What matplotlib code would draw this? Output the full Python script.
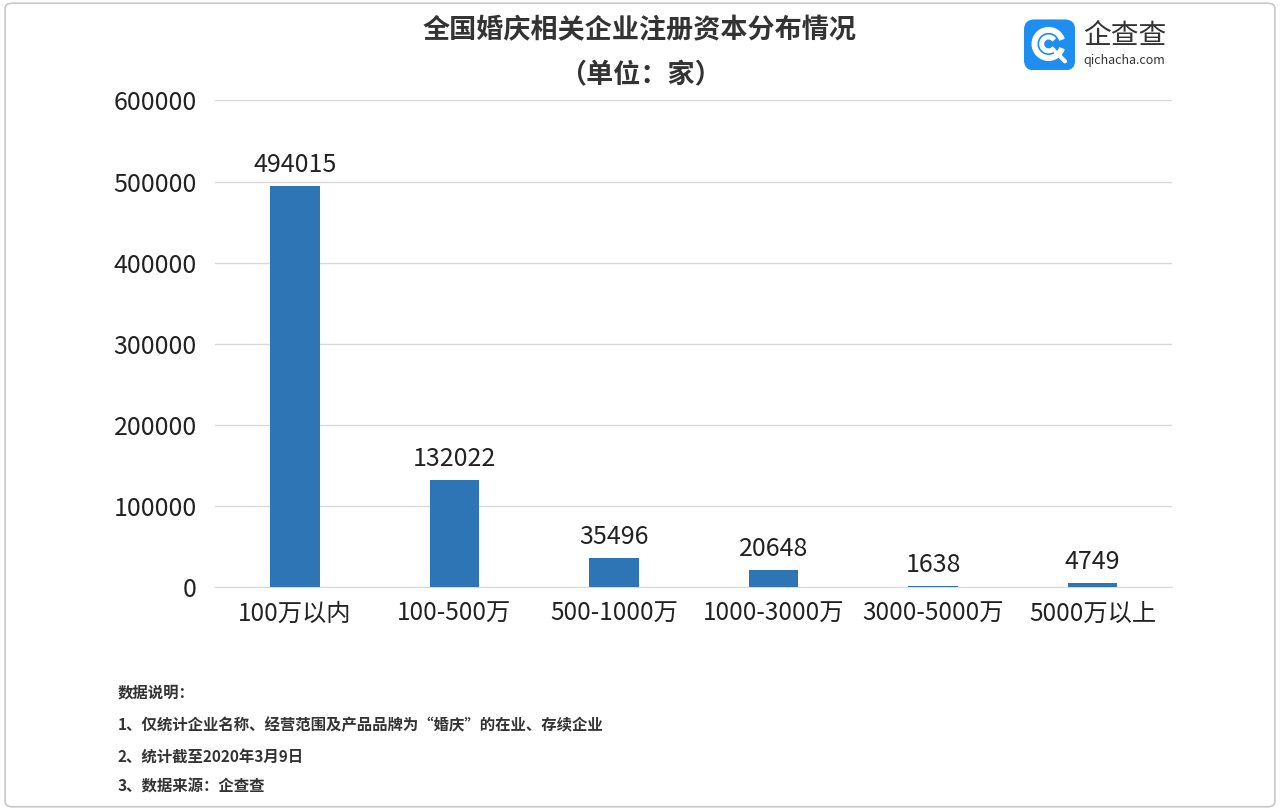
import matplotlib.pyplot as plt
from matplotlib.patches import FancyBboxPatch, Wedge

plt.rcParams['font.family'] = ['Noto Sans CJK SC', 'DejaVu Sans']

categories = ['100万以内', '100-500万', '500-1000万', '1000-3000万', '3000-5000万', '5000万以上']
counts = [494015, 132022, 35496, 20648, 1638, 4749]
yticks = [0, 100000, 200000, 300000, 400000, 500000, 600000]
notes = ['数据说明：',
         '1、仅统计企业名称、经营范围及产品品牌为“婚庆”的在业、存续企业',
         '2、统计截至2020年3月9日',
         '3、数据来源：企查查']

fig = plt.figure(figsize=(12.8, 8.1), dpi=100)
fig.patches.append(FancyBboxPatch((0.004, 0.004), 0.992, 0.992, boxstyle='round,pad=0,rounding_size=0.006',
                                  transform=fig.transFigure, fill=False, edgecolor='#c8c8c8', lw=1.2))

ax = fig.add_axes([0.168, 0.275, 0.748, 0.601])
x = range(len(categories))
ax.bar(x, counts, width=0.31, color='#2e75b6', zorder=3)
for i, v in zip(x, counts):
    ax.text(i, v + 10000, str(v), ha='center', va='bottom', fontsize=18, fontweight='medium', color='#222222')

ax.set_ylim(0, 600000)
ax.set_xlim(-0.5, len(categories) - 0.5)
ax.set_yticks(yticks)
ax.set_yticklabels([str(t) for t in yticks], fontsize=18, fontweight='medium', color='#222222')
ax.set_xticks(list(x))
ax.set_xticklabels(categories, fontsize=17.5, fontweight='medium', color='#222222')
ax.yaxis.grid(True, color='#d9d9d9', lw=1, zorder=0)
ax.tick_params(length=0, pad=10)
ax.tick_params(axis='y', pad=13)
for s in ['top', 'right', 'left']:
    ax.spines[s].set_visible(False)
ax.spines['bottom'].set_color('#d9d9d9')

fig.text(0.5, 0.963, '全国婚庆相关企业注册资本分布情况', ha='center', va='center',
         fontsize=19.5, fontweight='bold', color='#333333')
fig.text(0.5, 0.907, '（单位：家）', ha='center', va='center',
         fontsize=19.5, fontweight='bold', color='#333333')

# logo
lax = fig.add_axes([0.8, 0.913, 0.04, 0.063])
lax.set_xlim(0, 1); lax.set_ylim(0, 1); lax.axis('off')
lax.add_patch(FancyBboxPatch((0, 0), 1, 1, boxstyle='round,pad=0,rounding_size=0.2',
                             facecolor='#1e8ef0', edgecolor='none'))
lax.add_patch(Wedge((0.48, 0.52), 0.32, 20, 340, width=0.09, color='white'))
lax.add_patch(Wedge((0.48, 0.52), 0.17, 40, 320, width=0.07, color='white'))
lax.plot([0.62, 0.8], [0.36, 0.18], color='white', lw=3, solid_capstyle='round')
fig.text(0.846, 0.955, '企查查', fontsize=20, va='center', color='#333333')
fig.text(0.846, 0.925, 'qichacha.com', fontsize=9, va='center', color='#333333')

ys = [1 - 693 / 810, 1 - 725 / 810, 1 - 757 / 810, 1 - 787 / 810]
for t, yy in zip(notes, ys):
    fig.text(0.092, yy, t, fontsize=11.1, fontweight='bold', color='#333333', va='center')

fig.savefig('out.png', dpi=100, facecolor='white')
